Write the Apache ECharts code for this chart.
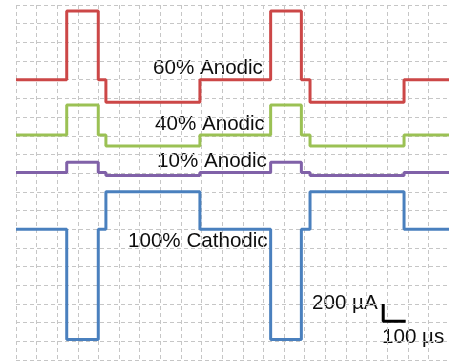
<!DOCTYPE html>
<html><head><meta charset="utf-8">
<script src="https://cdn.jsdelivr.net/npm/echarts@6/dist/echarts.min.js"></script>
<style>html,body{margin:0;padding:0;background:#fff}#c{width:449px;height:361px}</style>
</head><body><div id="c"></div>
<script>
// Time (µs) at which each waveform segment starts; 100 µs per grid column
const edgeTimes = [0, 246, 399, 436, 892, 1235, 1384, 1426, 1882];
const endTime = 2100;
// Levels in grid divisions (200 µA per division), one per segment, traces offset vertically
const anodic60 = [15.0, 18.68, 15.0, 13.8, 15.0, 18.68, 15.0, 13.8, 15.0];
const anodic40 = [12.04, 13.65, 12.04, 11.46, 12.04, 13.65, 12.04, 11.46, 12.04];
const anodic10 = [10.03, 10.58, 10.03, 9.87, 10.03, 10.58, 10.03, 9.87, 10.03];
const cathodic100 = [7.0, 1.1, 7.0, 9.0, 7.0, 1.1, 7.0, 9.0, 7.0];
// Scale bar (1 division each way: 200 µA, 100 µs)
const scaleBarX = [1781, 1781, 1890];
const scaleBarY = [3.0, 2.08, 2.08];
const labels = ['60% Anodic', '40% Anodic', '10% Anodic', '100% Cathodic', '200 µA', '100 µs'];

function toSteps(levels) {
  const d = levels.map((v, i) => [edgeTimes[i], v]);
  d.push([endTime, levels[levels.length - 1]]);
  return d;
}
const gridLine = { show: true, lineStyle: { color: '#c6c6c6', width: 1, type: [4, 3] } };
const chart = echarts.init(document.getElementById('c'), null, { renderer: 'canvas' });
function trace(data, color) {
  return { type: 'line', step: 'end', data: toSteps(data), showSymbol: false, symbol: 'none',
    lineStyle: { color: color, width: 3 }, animation: false, silent: true };
}
const font = '"Liberation Sans", Arial, sans-serif';
function txt(s, x, y) {
  return { type: 'text', x: x, y: y, style: { text: s, font: '20.6px ' + font, fill: '#0d0d0d', textVerticalAlign: 'middle', verticalAlign: 'middle' } };
}
chart.setOption({
  animation: false,
  backgroundColor: '#fff',
  grid: { left: 16, right: 0, top: 5, bottom: 1, containLabel: false },
  xAxis: { type: 'value', min: 0, max: 2100, interval: 100, axisLine: { show: false }, axisTick: { show: false }, axisLabel: { show: false }, splitLine: gridLine },
  yAxis: { type: 'value', min: 0, max: 19, interval: 1, axisLine: { show: false }, axisTick: { show: false }, axisLabel: { show: false }, splitLine: gridLine },
  series: [
    trace(anodic60, '#CC4747'),
    trace(anodic40, '#9BC154'),
    trace(anodic10, '#8061A8'),
    trace(cathodic100, '#4A80BE'),
    { type: 'line', data: scaleBarX.map((x, i) => [x, scaleBarY[i]]), showSymbol: false, symbol: 'none',
      lineStyle: { color: '#000', width: 3 }, animation: false, silent: true }
  ],
  graphic: [
    txt(labels[0], 153, 68.5),
    txt(labels[1], 155, 124.5),
    txt(labels[2], 157, 161),
    txt(labels[3], 128, 241),
    txt(labels[4], 312, 303.5),
    txt(labels[5], 382, 337.5)
  ]
});
</script>
</body></html>
